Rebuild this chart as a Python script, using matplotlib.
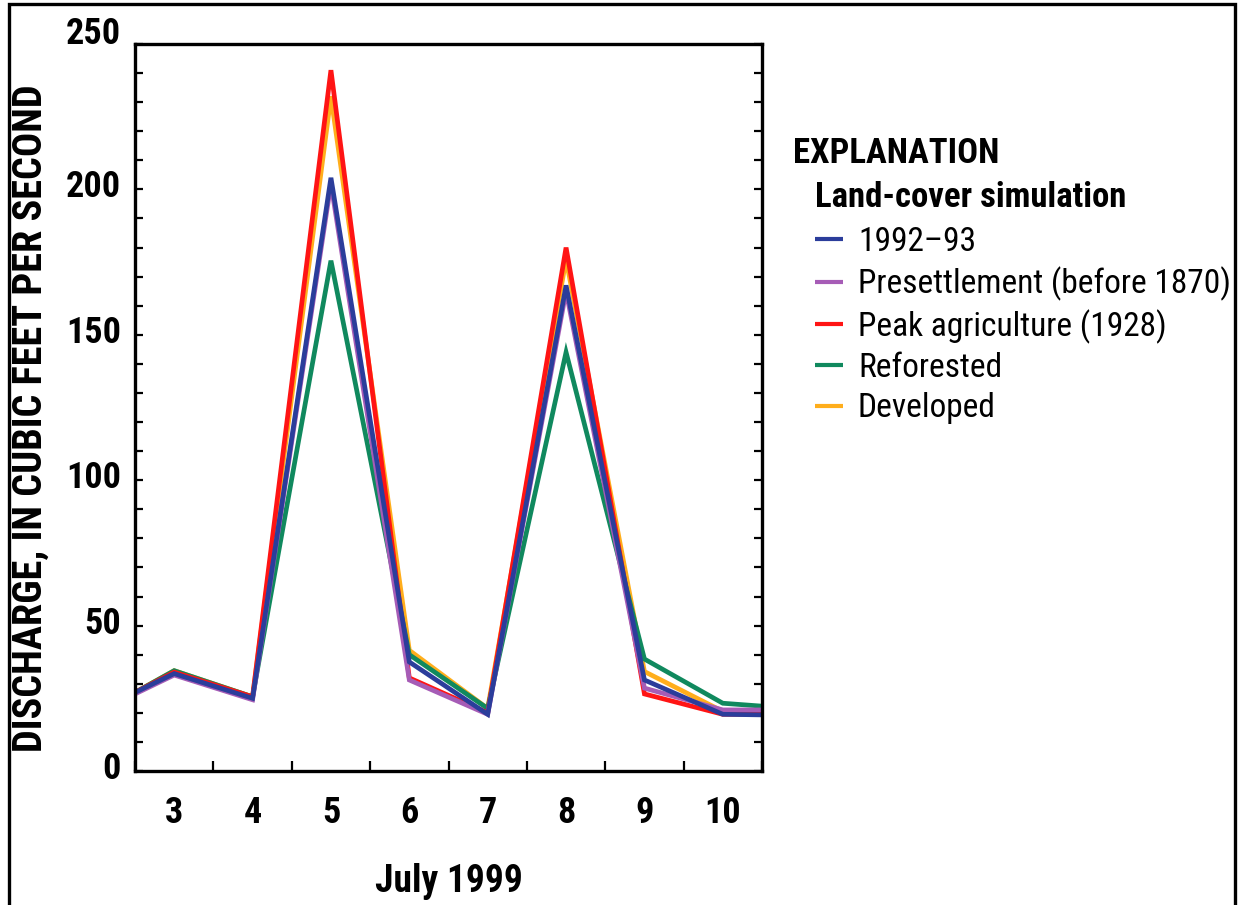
import matplotlib
matplotlib.use("Agg")
import matplotlib.pyplot as plt
import matplotlib.patches as patches
import matplotlib.transforms as mtransforms
from matplotlib.ticker import MultipleLocator, FixedLocator


plt.rcParams['font.family'] = ['Roboto Condensed', 'DejaVu Sans']


# days of July 1999 (first and last are the chart edges)
days = [2.5, 3, 4, 5, 6, 7, 8, 9, 10, 10.5]

# discharge, cubic feet per second, one list per land-cover simulation
q_1992_93 = [27, 33.5, 25, 204, 37.5, 19.5, 167, 31.3, 19.5, 19.3]
q_presettlement = [26.5, 33, 24.5, 202, 31.3, 19.5, 165, 28.5, 21, 21]
q_peak_agriculture = [27, 34, 25.5, 241, 32, 20, 180, 26.5, 19.5, 19.5]
q_reforested = [27, 34.5, 25.5, 175.5, 40, 21.5, 144, 38.5, 23.3, 22.3]
q_developed = [27, 34.5, 25.5, 232, 41.5, 21.5, 176, 34.2, 20.5, 20]

labels = ['1992\u201393', 'Presettlement (before 1870)', 'Peak agriculture (1928)',
	'Reforested', 'Developed']
x_ticks = [3, 4, 5, 6, 7, 8, 9, 10]
y_ticks = [0, 50, 100, 150, 200, 250]

c_blue = '#2b3d9b'
c_purple = '#a65cb6'
c_red = '#ff1414'
c_green = '#10895e'
c_orange = '#ffae1c'

W, H = 1238, 905

fig = plt.figure(figsize=(W / 100, H / 100), dpi=100)
ax = fig.add_axes([135 / W, 1 - 771 / H, 627 / W, 727 / H])

kw = dict(lw=3.4, solid_joinstyle='miter', solid_capstyle='butt')
l_orange, = ax.plot(days, q_developed, color=c_orange, **kw)
l_green, = ax.plot(days, q_reforested, color=c_green, **kw)
l_red, = ax.plot(days, q_peak_agriculture, color=c_red, **kw)
l_purple, = ax.plot(days, q_presettlement, color=c_purple, **kw)
l_blue, = ax.plot(days, q_1992_93, color=c_blue, **kw)

ax.set_xlim(2.5, 10.5)
ax.set_ylim(0, 250)

# labels on the days, tick marks between them
ax.xaxis.set_major_locator(FixedLocator(x_ticks))
ax.xaxis.set_minor_locator(MultipleLocator(1, offset=0.5))
ax.yaxis.set_major_locator(FixedLocator(y_ticks))
ax.yaxis.set_minor_locator(MultipleLocator(10))
ax.tick_params(axis='x', which='major', length=0, pad=17, labelsize=26)
ax.tick_params(axis='x', which='minor', direction='in', length=7, width=1.6, top=False)
ax.tick_params(axis='y', which='both', direction='in', length=6, width=1.6,
	left=True, right=True, pad=10, labelsize=26)
for t in ax.get_xticklabels() + ax.get_yticklabels():
	t.set_fontweight('bold')

# the value labels sit a little above their ticks in the original
for t, v in zip(ax.get_yticklabels(), y_ticks):
	up = 6 if v < 250 else 14
	t.set_transform(t.get_transform() + mtransforms.ScaledTranslation(0, up / 100, fig.dpi_scale_trans))

for s in ax.spines.values():
	s.set_linewidth(2.4)

ax.set_xlabel('July 1999', fontsize=27, fontweight='bold', va='top')
ax.xaxis.set_label_coords(0.5, -0.127)
ax.set_ylabel('DISCHARGE, IN CUBIC FEET PER SECOND', fontsize=29, fontweight='bold')
ax.yaxis.set_label_coords(-0.1355, 0.4856)

# explanation block
fig.text(793 / W, 1 - 163 / H, 'EXPLANATION', fontsize=25, fontweight='bold', va='baseline')
fig.text(815 / W, 1 - 207 / H, 'Land-cover simulation', fontsize=25, fontweight='bold', va='baseline')
leg = fig.legend([l_blue, l_purple, l_red, l_green, l_orange], labels,
	loc='upper left', bbox_to_anchor=(815 / W, 1 - 226 / H),
	frameon=False, fontsize=24, borderpad=0, borderaxespad=0,
	handlelength=0.84, handletextpad=0.45, labelspacing=0.25)
for h in leg.legend_handles:
	h.set_linewidth(3)

# frame round the whole figure, open at the bottom
fig.add_artist(patches.Rectangle((9 / W, -0.05), 1226 / W, 1.05 - 4 / H,
	transform=fig.transFigure, fill=False, ec='black', lw=2.4))

fig.savefig('out.png', dpi=100)
